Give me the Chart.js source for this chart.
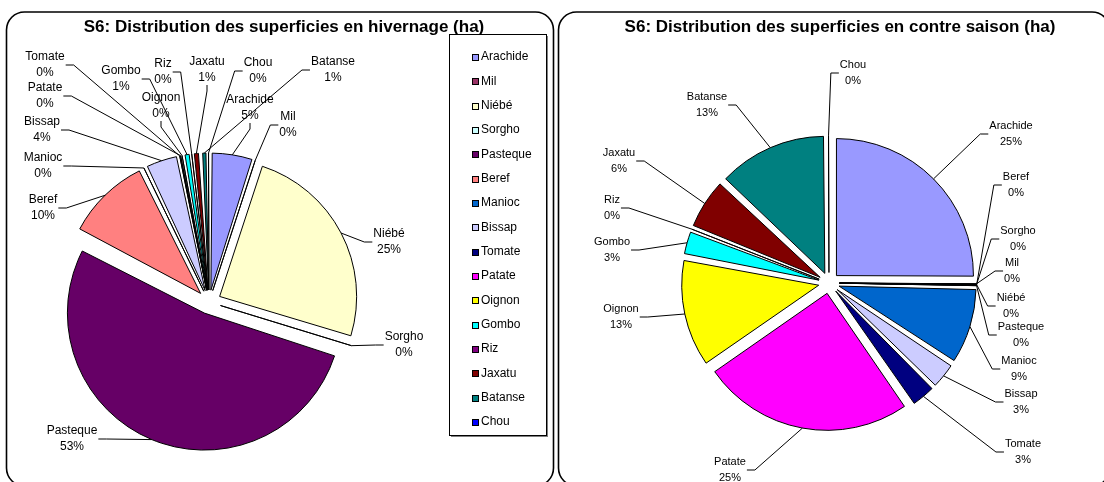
<!DOCTYPE html>
<html><head><meta charset="utf-8">
<script src="https://cdn.jsdelivr.net/npm/chart.js@4.4.1/dist/chart.umd.min.js"></script>
<style>
html,body{margin:0;padding:0;background:#fff;overflow:hidden;}
#wrap{position:relative;width:1104px;height:482px;}
canvas{position:absolute;top:0;}
</style></head><body>
<div id="wrap">
<canvas id="c1" width="556" height="482" style="left:0;width:556px;height:482px"></canvas>
<canvas id="c2" width="548" height="482" style="left:556px;width:548px;height:482px"></canvas>
</div>
<script>
// ---------- DATA ----------
const categories = ['Arachide','Mil','Niébé','Sorgho','Pasteque','Beref','Manioc','Bissap','Tomate','Patate','Oignon','Gombo','Riz','Jaxatu','Batanse','Chou'];
const hivernageHa    = [5.0, 0.05, 24.6, 0.2, 52.9, 10.0, 0.2, 3.9, 0.1, 0.1, 0.2, 0.9, 0.1, 0.9, 0.8, 0.1];
const contreSaisonHa = [25.0, 0.05, 0.05, 0.05, 0.05, 0.05, 8.9, 3.2, 3.0, 24.8, 12.6, 2.9, 0.2, 6.0, 12.8, 0.1];
const sliceColors = ['#9999FF','#993366','#FFFFCC','#CCFFFF','#660066','#FF8080','#0066CC','#CCCCFF','#000080','#FF00FF','#FFFF00','#00FFFF','#800080','#800000','#008080','#0000FF'];
const titleHivernage = 'S6: Distribution des superficies en hivernage (ha)';
const titleContreSaison = 'S6: Distribution des superficies en contre saison (ha)';

// ---------- LAYOUT (page pixels: label x centre, first line y) ----------
const labelPosHivernage = [[250,100],[288,117],[389,234],[404,337],[72,431],[43,200],[43,158],[42,122],[45,57],[45,88],[161,98],[121,71],[163,64],[207,62],[333,62],[258,63]];
const labelPosContre = [[1011,126],[1012,263],[1011,298],[1018,231],[1021,327],[1016,177],[1019,361],[1021,394],[1023,444],[730,462],[621,309],[612,242],[612,200],[619,153],[707,97],[853,65]];

const FONT = '"Liberation Sans", Arial, sans-serif';

const deco = {
  id: 'deco',
  beforeDraw(chart, a, o) {
    const ctx = chart.ctx;
    ctx.save();
    ctx.fillStyle = '#fff'; ctx.fillRect(0, 0, chart.width, chart.height);
    const f = o.frame;
    ctx.beginPath();
    ctx.roundRect(f[0] - o.originX, f[1], f[2] - f[0], f[3] - f[1], 18);
    ctx.lineWidth = 1.6; ctx.strokeStyle = '#000'; ctx.stroke();
    ctx.font = 'bold 17px ' + FONT; ctx.fillStyle = '#000';
    ctx.textAlign = 'center'; ctx.textBaseline = 'middle';
    ctx.fillText(o.title, o.titleX - o.originX, o.titleY);
    ctx.restore();
  },
  beforeDatasetDraw(chart, args) {
    args.meta.data.forEach(arc => {
      const off = (arc.options.offset || 0) / 4;
      const fix = 1 - Math.sin(Math.min(Math.PI, arc.circumference || 0));
      arc._savedR = arc.outerRadius;
      arc.outerRadius = arc.outerRadius - off * fix;
    });
  },
  afterDatasetDraw(chart, args) {
    args.meta.data.forEach(arc => { if (arc._savedR !== undefined) arc.outerRadius = arc._savedR; });
  },
  afterDatasetsDraw(chart, a, o) {
    const ctx = chart.ctx;
    const meta = chart.getDatasetMeta(0);
    const ds = chart.data.datasets[0];
    const total = ds.data.reduce((s, v) => s + v, 0);
    ctx.save();
    ctx.font = o.fontSize + 'px ' + FONT;
    ctx.strokeStyle = '#000'; ctx.fillStyle = '#000'; ctx.lineWidth = 1;
    meta.data.forEach((arc, i) => {
      const p = o.positions[i];
      const lx = p[0] - o.originX, ly = p[1];
      const mid = (arc.startAngle + arc.endAngle) / 2;
      const off = (arc.options.offset || 0) / 4;
      const r = arc.outerRadius + off;
      const ax = arc.x + Math.cos(mid) * r, ay = arc.y + Math.sin(mid) * r;
      const name = chart.data.labels[i];
      const pct = Math.round(ds.data[i] / total * 100) + '%';
      const w = Math.max(ctx.measureText(name).width, ctx.measureText(pct).width);
      const cy = ly + o.lineGap / 2;
      ctx.beginPath();
      if (ax > lx - w / 2 - 4 && ax < lx + w / 2 + 4 && ay > ly) {
        const by = ly + o.lineGap + 7;
        ctx.moveTo(lx, by); ctx.lineTo(lx, by + 6); ctx.lineTo(ax, ay);
      } else if (lx >= ax) {
        const ex = lx - w / 2 - 1, bx = ex - 8;
        ctx.moveTo(ex, cy); ctx.lineTo(bx, cy); ctx.lineTo(ax, ay);
      } else {
        const ex = lx + w / 2 + 1, bx = ex + 8;
        ctx.moveTo(ex, cy); ctx.lineTo(bx, cy); ctx.lineTo(ax, ay);
      }
      ctx.stroke();
      ctx.textAlign = 'center'; ctx.textBaseline = 'middle';
      ctx.fillText(name, lx, ly);
      ctx.fillText(pct, lx, ly + o.lineGap);
    });
    if (o.legend) {
      const L = o.legend;
      ctx.fillStyle = '#7f7f7f'; ctx.fillRect(L.x + 2, L.y + 2, L.w, L.h);
      ctx.fillStyle = '#fff'; ctx.fillRect(L.x, L.y, L.w, L.h);
      ctx.strokeStyle = '#000'; ctx.lineWidth = 1; ctx.strokeRect(L.x + 0.5, L.y + 0.5, L.w, L.h);
      ctx.font = L.fontSize + 'px ' + FONT;
      chart.data.labels.forEach((lab, i) => {
        const y = L.firstY + i * L.step;
        ctx.fillStyle = ds.backgroundColor[i];
        ctx.fillRect(L.markX, Math.round(y) - 3, 6, 6);
        ctx.strokeRect(L.markX + 0.5, Math.round(y) - 3 + 0.5, 6, 6);
        ctx.fillStyle = '#000'; ctx.textAlign = 'left'; ctx.textBaseline = 'middle';
        ctx.fillText(lab, L.textX, y);
      });
    }
    ctx.restore();
  }
};

function makePie(id, values, offsetPx, padding, decoOpts) {
  return new Chart(document.getElementById(id), {
    type: 'pie',
    data: {
      labels: categories,
      datasets: [{
        data: values,
        backgroundColor: sliceColors,
        borderColor: '#000',
        borderWidth: 1,
        offset: offsetPx * 4,
        hoverOffset: 0
      }]
    },
    options: {
      responsive: false,
      animation: false,
      events: [],
      radius: 137,
      rotation: 0,
      layout: { padding: padding },
      plugins: { legend: { display: false }, tooltip: { enabled: false }, title: { display: false }, deco: decoOpts }
    },
    plugins: [deco]
  });
}

makePie('c1', hivernageHa, 12, { left: 0, right: 138, top: 122, bottom: 0 }, {
  originX: 0, frame: [6.5, 12, 553.5, 486], title: titleHivernage, titleX: 284, titleY: 27,
  positions: labelPosHivernage, fontSize: 12, lineGap: 16,
  legend: { x: 449, y: 34, w: 97, h: 401, firstY: 57, step: 24.33, markX: 472, textX: 481, fontSize: 12 }
});
makePie('c2', contreSaisonHa, 10.5, { left: 0, right: 2, top: 84, bottom: 0 }, {
  originX: 556, frame: [558.5, 12, 1110, 486], title: titleContreSaison, titleX: 840, titleY: 27,
  positions: labelPosContre, fontSize: 11, lineGap: 16
});
</script>
</body></html>
